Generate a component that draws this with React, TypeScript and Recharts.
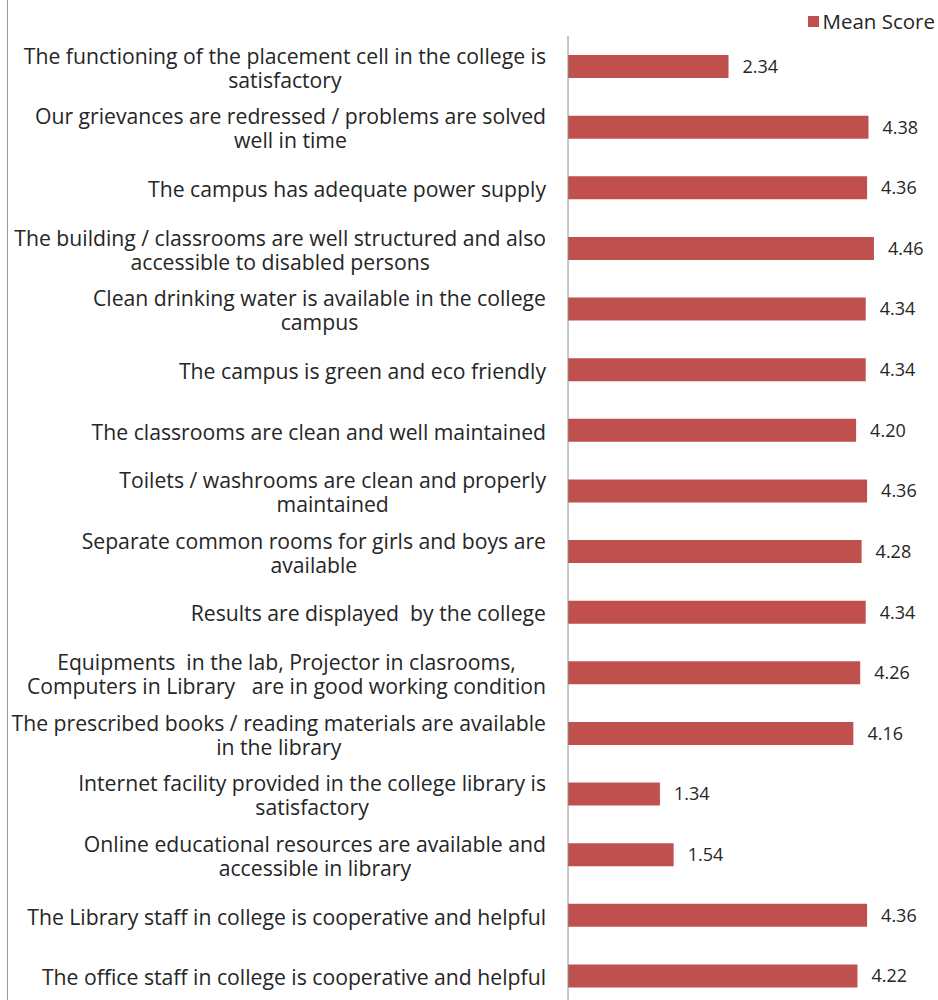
import { BarChart, Bar, XAxis, YAxis, LabelList } from "recharts"

const statements = [
  "The functioning of the placement cell in the college is\nsatisfactory",
  "Our grievances are redressed / problems are solved\nwell in time",
  "The campus has adequate power supply",
  "The building / classrooms are well structured and also\naccessible to disabled persons",
  "Clean drinking water is available in the college\ncampus",
  "The campus is green and eco friendly",
  "The classrooms are clean and well maintained",
  "Toilets / washrooms are clean and properly\nmaintained",
  "Separate common rooms for girls and boys are\navailable",
  "Results are displayed  by the college",
  "Equipments  in the lab, Projector in clasrooms,\nComputers in Library   are in good working condition",
  "The prescribed books / reading materials are available\nin the library",
  "Internet facility provided in the college library is\nsatisfactory",
  "Online educational resources are available and\naccessible in library",
  "The Library staff in college is cooperative and helpful",
  "The office staff in college is cooperative and helpful",
]

const meanScores = [2.34, 4.38, 4.36, 4.46, 4.34, 4.34, 4.2, 4.36, 4.28, 4.34, 4.26, 4.16, 1.34, 1.54, 4.36, 4.22]

const data = statements.map((name, i) => ({ name, score: meanScores[i] }))

const FONT = "'Open Sans', Lato, sans-serif"
const TICK_SIZE = 21.2
const BAR_RED = "#C0504D"

let ctx: CanvasRenderingContext2D | null = null
function textWidth(s: string) {
  if (!ctx) ctx = document.createElement("canvas").getContext("2d")
  if (!ctx) return s.length * 10
  ctx.font = `${TICK_SIZE}px 'Open Sans'`
  return ctx.measureText(s).width
}

function StatementTick({ x, y, payload }: any) {
  const lines = String(payload.value).split("\n")
  const maxW = Math.max(...lines.map(textWidth))
  const right = x - 14
  const cx = right - maxW / 2
  const lh = 24
  const top = y - ((lines.length - 1) * lh) / 2 + 1
  return (
    <text textAnchor="middle" fontFamily={FONT} fontSize={TICK_SIZE} fill="#262626" style={{ whiteSpace: "pre" }}>
      {lines.map((l, i) => (
        <tspan key={i} x={cx} y={top + i * lh} dominantBaseline="central">{l}</tspan>
      ))}
    </text>
  )
}

export default function App() {
  return (
    <div style={{ position: "absolute", left: 0, top: 0, width: 938, height: 1000, overflow: "hidden", background: "#fff" }}>
      <div style={{ position: "absolute", left: 7, top: 0, width: 1, height: 1000, background: "#9a9a9a" }} />
      <div style={{ position: "absolute", right: 3, top: 8, display: "flex", alignItems: "center", fontFamily: FONT, fontSize: 20.5, color: "#262626", lineHeight: "26px" }}>
        <span style={{ width: 11, height: 11, background: BAR_RED, display: "inline-block", marginRight: 3 }} />
        Mean Score
      </div>
      <BarChart width={938} height={1006} data={data} layout="vertical" margin={{ top: 36, right: 27, bottom: 0, left: 0 }} barCategoryGap={0}>
        <XAxis type="number" domain={[0, 5]} hide />
        <YAxis type="category" dataKey="name" width={568} axisLine={{ stroke: "#8c8c8c" }} tickLine={false} tick={<StatementTick />} interval={0} />
        <Bar dataKey="score" name="Mean Score" fill={BAR_RED} barSize={23} isAnimationActive={false}>
          <LabelList dataKey="score" position="right" offset={14} formatter={(v: any) => Number(v).toFixed(2)} style={{ fontFamily: FONT, fontSize: 18, fill: "#262626" }} />
        </Bar>
      </BarChart>
    </div>
  )
}
